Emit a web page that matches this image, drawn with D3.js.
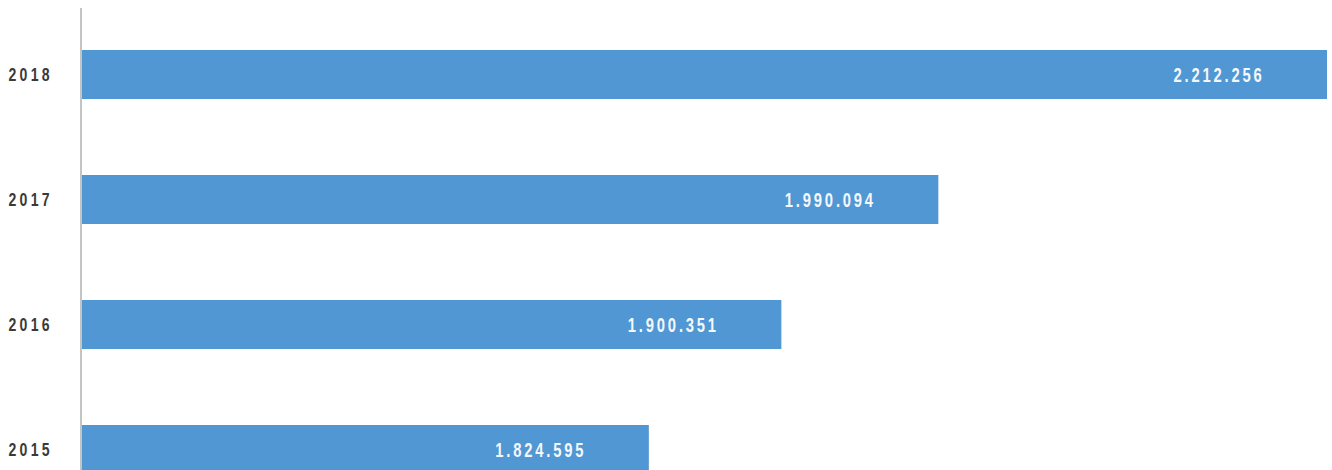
<!DOCTYPE html>
<html>
<head>
<meta charset="utf-8">
<script src="https://cdn.jsdelivr.net/npm/d3@7"></script>
<style>
  html, body { margin: 0; padding: 0; background: #ffffff; }
  svg { display: block; }
  text { font-family: "Liberation Sans", Arial, sans-serif; font-weight: bold; }
</style>
</head>
<body>
<svg id="chart" width="1332" height="470"></svg>
<script>
const years = ["2018", "2017", "2016", "2015"];
const values = [2212256, 1990094, 1900351, 1824595];
const valueLabels = ["2.212.256", "1.990.094", "1.900.351", "1.824.595"];
const xDomain = [1500000, 2212256];

const data = years.map((y, i) => ({ year: y, value: values[i], label: valueLabels[i] }));

const W = 1332, H = 470;
const SX = 0.74; // horizontal condensing of the typeface
const svg = d3.select("#chart");

const x = d3.scaleLinear().domain(xDomain).range([81, 1327]);
const y = d3.scaleBand().domain(years).range([12, 512]).paddingInner(0.608).paddingOuter(0.304);

// bars
svg.append("g").selectAll("rect")
  .data(data)
  .join("rect")
  .attr("x", x(xDomain[0]))
  .attr("y", d => y(d.year))
  .attr("width", d => x(d.value) - x(xDomain[0]))
  .attr("height", y.bandwidth())
  .attr("fill", "#5197d3");

// left axis
const pad = 28;
const yAxis = d3.axisLeft(y).tickSize(0).tickPadding(pad);
const gy = svg.append("g").attr("transform", `translate(${x(xDomain[0])},0)`).call(yAxis);
gy.select(".domain").attr("stroke", "#c4c4c4").attr("stroke-width", 2).attr("d", "M0,8V470");
gy.selectAll(".tick text")
  .attr("x", -pad / SX)
  .attr("transform", `scale(${SX},1)`)
  .attr("fill", "#3a3a3a")
  .attr("font-size", 19)
  .attr("letter-spacing", 4.5)
  .style("font-family", '"Liberation Sans", Arial, sans-serif')
  .style("font-weight", "bold");

// value labels inside bars
svg.append("g").selectAll("text")
  .data(data)
  .join("text")
  .attr("transform", d => `translate(${x(d.value) - 108},${y(d.year) + y.bandwidth() / 2}) scale(${SX},1)`)
  .attr("dy", "0.36em")
  .attr("text-anchor", "middle")
  .attr("fill", "#f4f8fc")
  .attr("font-size", 20)
  .attr("letter-spacing", 3.8)
  .text(d => d.label);
</script>
</body>
</html>
